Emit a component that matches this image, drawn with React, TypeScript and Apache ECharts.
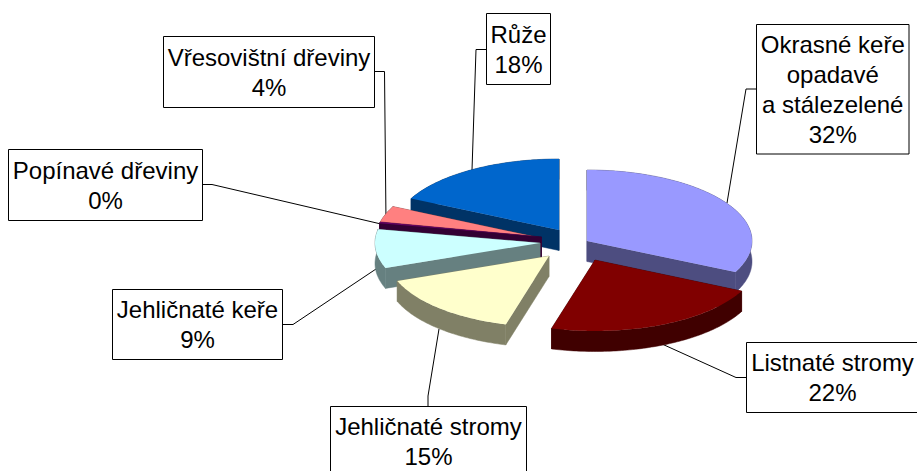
import React, { useEffect, useRef } from "react";
import * as echarts from "echarts";

const names = ["Okrasné keře\nopadavé\na stálezelené", "Listnaté stromy", "Jehličnaté stromy", "Jehličnaté keře", "Popínavé dřeviny", "Vřesovištní dřeviny", "Růže"];
const percentLabels = ["32%", "22%", "15%", "9%", "0%", "4%", "18%"];
const shares = [32.2, 22.1, 15, 8.8, 0.3, 3.9, 17.7];
const topColors = ["#9999FF", "#800000", "#FFFFCC", "#CCFFFF", "#660066", "#FF8080", "#0066CC"];
const sideColors = ["#4D4D80", "#400000", "#808066", "#668080", "#330033", "#804040", "#003366"];
const apexX = [587, 595, 549, 540, 541.5, 541, 559];
const apexY = [241, 260, 256, 243, 237, 238, 230];
const radiiX = [165, 163, 162, 165, 165, 165, 165];
const drawOrder = [6, 5, 4, 3, 0, 2, 1];
const boxes = [
  [756.5, 24.5, 152.5, 129.5], [746.5, 342.5, 172, 70], [330.5, 406.5, 196, 70], [112.5, 289.5, 170, 70],
  [8.5, 149.5, 194, 71], [163.5, 36.5, 211, 71], [486.5, 13.5, 64, 71],
];
const leaders = [
  [[727, 203], [746, 89], [756, 89]], [[662, 344], [736, 377.5], [746, 377.5]], [[439, 329], [428, 396], [428, 406]],
  [[376, 269], [293, 324.5], [283, 324.5]], [[381, 224], [212, 184.5], [202, 184.5]], [[386, 222], [384.5, 71.5], [375, 71.5]],
  [[472, 170], [476, 49.5], [486, 49.5]],
];
const RY = 71;
const DEPTH = 20.5;
const FONT = "'Liberation Sans', Arial, sans-serif";

function renderSlice(_params: any, api: any) {
  const i = api.value(0);
  const total = shares.reduce((a, b) => a + b, 0);
  const before = shares.slice(0, i).reduce((a, b) => a + b, 0);
  const a0 = (before / total) * Math.PI * 2;
  const a1 = ((before + api.value(1)) / total) * Math.PI * 2;
  const cx = apexX[i];
  const cy = apexY[i];
  const steps = Math.max(2, Math.ceil(((a1 - a0) * 180) / Math.PI));
  const arc: number[][] = [];
  for (let s = 0; s <= steps; s++) {
    const a = a0 + ((a1 - a0) * s) / steps;
    arc.push([cx + radiiX[i] * Math.sin(a), cy - RY * Math.cos(a)]);
  }
  const down = (p: number[]) => [p[0], p[1] + DEPTH];
  const side = { fill: sideColors[i], stroke: sideColors[i], lineWidth: 0.5 };
  const first = arc[0];
  const last = arc[arc.length - 1];
  const apex = [cx, cy];
  return {
    type: "group",
    children: [
      { type: "polygon", shape: { points: [apex, first, down(first), down(apex)] }, style: side },
      { type: "polygon", shape: { points: [apex, last, down(last), down(apex)] }, style: side },
      { type: "polygon", shape: { points: [...arc, ...arc.slice().reverse().map(down)] }, style: side },
      { type: "polygon", shape: { points: [apex, ...arc] }, style: { fill: topColors[i] } },
    ],
  };
}

export default function App() {
  const ref = useRef<HTMLDivElement>(null);
  useEffect(() => {
    document.body.style.margin = "0";
    document.body.style.overflow = "hidden";
    const chart = echarts.init(ref.current!, null, { renderer: "svg" });
    const graphic: any[] = [];
    leaders.forEach((pts) => {
      graphic.push({ type: "polyline", z: 1, shape: { points: pts }, style: { stroke: "#000", lineWidth: 1, fill: "none" } });
    });
    boxes.forEach((b, i) => {
      graphic.push({ type: "rect", z: 3, shape: { x: b[0], y: b[1], width: b[2], height: b[3] }, style: { fill: "#fff", stroke: "#000", lineWidth: 1 } });
      graphic.push({
        type: "text", z: 4, x: b[0] + b[2] / 2, y: b[1] + (i === 2 ? 35 : b[3] / 2),
        style: { text: names[i] + "\n" + percentLabels[i], font: `24px ${FONT}`, fill: "#000", align: "center", verticalAlign: "middle", lineHeight: 30 },
      });
    });
    chart.setOption({
      animation: false,
      backgroundColor: "#fff",
      graphic,
      series: [{
        type: "custom",
        coordinateSystem: "none",
        silent: true,
        z: 2,
        renderItem: renderSlice,
        data: drawOrder.map((i) => [i, shares[i]]),
      }],
    });
    return () => chart.dispose();
  }, []);
  return <div ref={ref} style={{ width: 917, height: 471 }} />;
}
